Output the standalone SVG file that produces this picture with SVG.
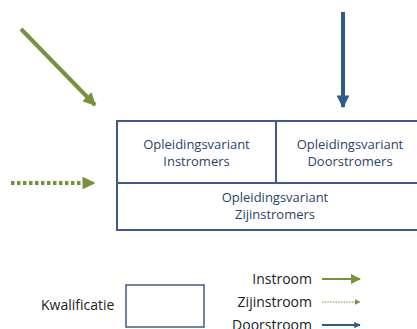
<svg xmlns="http://www.w3.org/2000/svg" width="417" height="329" viewBox="0 0 417 329">
  <style>
    .box { fill: #ffffff; stroke: #3d5a8a; stroke-width: 2; }
    .cell { font-family: "Open Sans", "Liberation Sans", sans-serif; font-size: 13px; fill: #2b4466; text-anchor: middle; }
    .lbl { font-family: "Open Sans", "Liberation Sans", sans-serif; font-size: 14px; fill: #222222; }
    .green { stroke: #76933c; fill: none; }
    .blue { stroke: #2e5a8e; fill: none; }
  </style>
  <defs>
    <marker id="headGreen" viewBox="0 0 10 10" refX="9" refY="5" markerWidth="3.2" markerHeight="3.2" orient="auto" markerUnits="strokeWidth">
      <path d="M0,0 L10,5 L0,10 Z" fill="#76933c"/>
    </marker>
    <marker id="headBlue" viewBox="0 0 10 10" refX="9" refY="5" markerWidth="3.2" markerHeight="3.2" orient="auto" markerUnits="strokeWidth">
      <path d="M0,0 L10,5 L0,10 Z" fill="#2e5a8e"/>
    </marker>
    <marker id="headGreenSmall" viewBox="0 0 10 10" refX="9" refY="5" markerWidth="5" markerHeight="5" orient="auto" markerUnits="strokeWidth">
      <path d="M0,0 L10,5 L0,10 Z" fill="#76933c"/>
    </marker>
  </defs>

  <!-- qualification block -->
  <g id="instromers">
    <rect class="box" x="117" y="121" width="159" height="62"/>
    <text class="cell" x="196.5" y="149">Opleidingsvariant</text>
    <text class="cell" x="196.5" y="166">Instromers</text>
  </g>
  <g id="doorstromers">
    <rect class="box" x="276" y="121" width="150" height="62"/>
    <text class="cell" x="350" y="149">Opleidingsvariant</text>
    <text class="cell" x="350" y="166">Doorstromers</text>
  </g>
  <g id="zijinstromers">
    <rect class="box" x="117" y="183" width="309" height="47"/>
    <text class="cell" x="275" y="202">Opleidingsvariant</text>
    <text class="cell" x="275" y="219">Zijinstromers</text>
  </g>

  <!-- incoming flows -->
  <g id="connectors">
    <line class="green" x1="21" y1="29" x2="95" y2="105" stroke-width="4" marker-end="url(#headGreen)"/>
    <line class="green" x1="11" y1="183" x2="94" y2="183" stroke-width="4" stroke-dasharray="3.5 2.5" marker-end="url(#headGreen)"/>
    <line class="blue" x1="343" y1="12" x2="343" y2="107" stroke-width="4" marker-end="url(#headBlue)"/>
  </g>

  <!-- legend -->
  <g id="legend">
    <text class="lbl" x="41" y="310">Kwalificatie</text>
    <rect x="126" y="285" width="78" height="42" fill="#ffffff" stroke="#3d5a8a" stroke-width="1.5"/>
    <text class="lbl" x="312" y="284" text-anchor="end">Instroom</text>
    <text class="lbl" x="312" y="307" text-anchor="end">Zijinstroom</text>
    <text class="lbl" x="312" y="330" text-anchor="end">Doorstroom</text>
    <line class="green" x1="322" y1="279" x2="360" y2="279" stroke-width="2" marker-end="url(#headGreenSmall)"/>
    <line class="green" x1="322" y1="302" x2="360" y2="302" stroke-width="1.2" stroke-dasharray="1.5 1.2" marker-end="url(#headGreenSmall)"/>
    <line class="blue" x1="322" y1="325" x2="360" y2="325" stroke-width="2" marker-end="url(#headBlue)"/>
  </g>
</svg>
